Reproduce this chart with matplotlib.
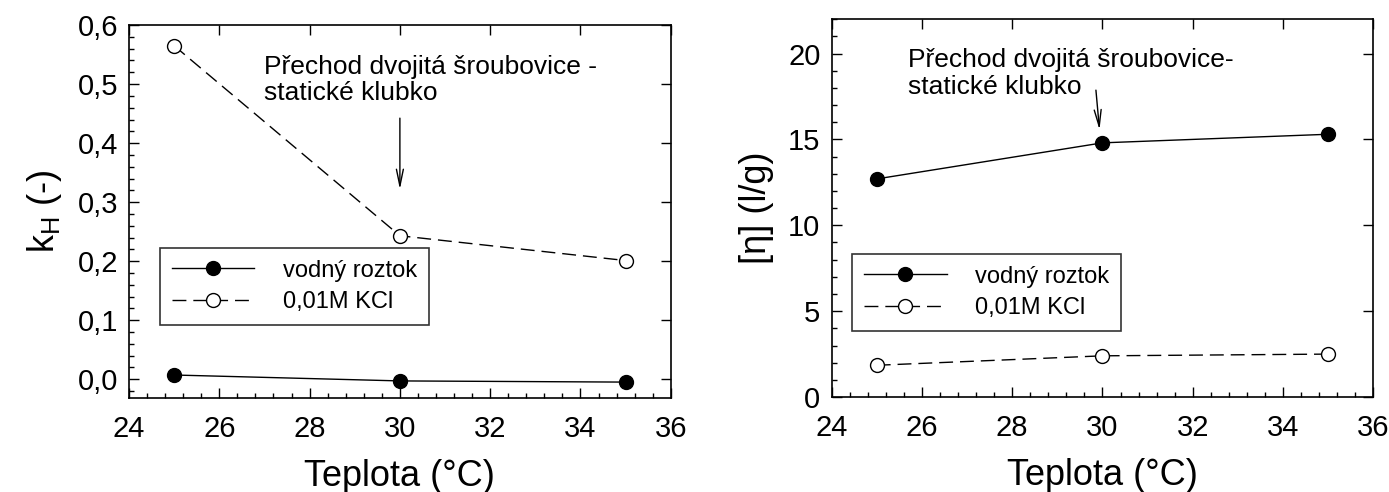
import matplotlib
matplotlib.use('Agg')
import matplotlib.pyplot as plt
from matplotlib.ticker import MultipleLocator, FuncFormatter

plt.rcParams['font.family'] = ['Liberation Sans', 'DejaVu Sans']

# data
teplota = [25, 30, 35]
kh_voda = [0.007, -0.003, -0.005]
kh_kcl = [0.565, 0.243, 0.201]
eta_voda = [12.7, 14.8, 15.3]
eta_kcl = [1.85, 2.4, 2.5]

label_voda = 'vodný roztok'
label_kcl = '0,01M KCl'


def style_axes(ax):
    ax.set_xlim(24, 36)
    ax.xaxis.set_major_locator(MultipleLocator(2))
    ax.xaxis.set_minor_locator(MultipleLocator(0.4))
    ax.tick_params(which='both', direction='in', labelsize=21)
    ax.tick_params(which='major', length=7, width=1, top=True, right=True)
    ax.tick_params(which='minor', length=3.5, width=1, top=False, right=False)
    ax.tick_params(axis='x', pad=12)
    ax.tick_params(axis='y', pad=8)
    for s in ax.spines.values():
        s.set_linewidth(1.2)
    ax.set_xlabel('Teplota (°C)', fontsize=26, labelpad=12)


def draw(ax, y1, y2):
    ax.plot(teplota, y1, '-', color='black', lw=1, marker='o', ms=10,
            mfc='black', mec='black', label=label_voda)
    ax.plot(teplota, y2, color='black', lw=1, ls=(0, (10, 5)), marker='o', ms=10,
            mfc='white', mec='black', label=label_kcl)


def add_legend(ax, x0, y0):
    leg = ax.legend(loc='lower left', bbox_to_anchor=(x0, y0), numpoints=1,
                    handlelength=3.5, fontsize=17, frameon=True, fancybox=False,
                    borderaxespad=0, borderpad=0.5, handletextpad=1.2, labelspacing=0.4)
    leg.get_frame().set_edgecolor('black')
    leg.get_frame().set_linewidth(1.2)


arrow_style = dict(arrowstyle='->,head_length=1.2,head_width=0.25', color='black', lw=1)

fig = plt.figure(figsize=(13.89, 4.92), dpi=100)

# levy graf - Huggins konstanta
ax1 = fig.add_axes([0.0929, 0.191, 0.390, 0.758])
draw(ax1, kh_voda, kh_kcl)
style_axes(ax1)
ax1.set_ylim(-0.032, 0.6)
ax1.yaxis.set_major_locator(MultipleLocator(0.1))
ax1.yaxis.set_minor_locator(MultipleLocator(0.02))
ax1.yaxis.set_major_formatter(FuncFormatter(lambda v, p: f'{v:.1f}'.replace('.', ',').replace('-0,0', '0,0')))
ax1.set_ylabel('k$_\\mathregular{H}$ (-)', fontsize=26, labelpad=10)
ax1.annotate('', xy=(30, 0.317), xytext=(30, 0.447), arrowprops=arrow_style)
ax1.text(27.0, 0.55, 'Přechod dvojitá šroubovice -\nstatické klubko', fontsize=19,
         va='top', ha='left', linespacing=1.15)
add_legend(ax1, 0.057, 0.196)

# pravy graf - limitni viskozitni cislo
ax2 = fig.add_axes([0.5987, 0.193, 0.390, 0.768])
draw(ax2, eta_voda, eta_kcl)
style_axes(ax2)
ax2.set_ylim(0, 22)
ax2.yaxis.set_major_locator(MultipleLocator(5))
ax2.yaxis.set_minor_locator(MultipleLocator(1))
ax2.set_ylabel('[η] (l/g)', fontsize=26, labelpad=10)
ax2.annotate('', xy=(29.94, 15.4), xytext=(29.85, 18.03), arrowprops=arrow_style)
ax2.text(25.7, 20.3, 'Přechod dvojitá šroubovice-\nstatické klubko', fontsize=19,
         va='top', ha='left', linespacing=1.15)
add_legend(ax2, 0.038, 0.175)

fig.savefig('out.png', dpi=100)
